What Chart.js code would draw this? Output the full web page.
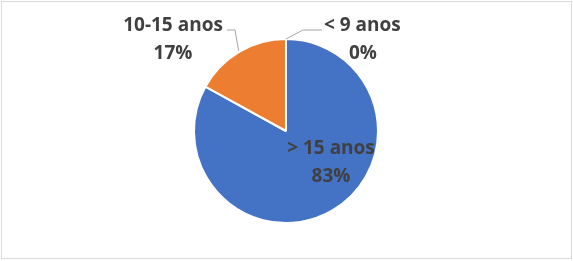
<!DOCTYPE html>
<html><head><meta charset="utf-8">
<script src="https://cdn.jsdelivr.net/npm/chart.js@4/dist/chart.umd.min.js"></script>
<style>html,body{margin:0;padding:0;background:#fff;}#wrap{width:573px;height:261px;position:relative;}</style>
</head><body><div id="wrap"><canvas id="c" width="573" height="261"></canvas></div>
<script>
const categories = ["> 15 anos", "10-15 anos", "< 9 anos"];
const values = [83, 17, 0];
const pctLabels = ["83%", "17%", "0%"];
const colors = ["#4472C4", "#ED7D31", "#A5A5A5"];

const labelPlugin = {
  id: 'labels',
  afterDraw(chart) {
    const ctx = chart.ctx;
    const arcs = chart.getDatasetMeta(0).data;
    ctx.save();
    ctx.strokeStyle = '#D9D9D9'; ctx.lineWidth = 1;
    ctx.strokeRect(1.5, 1.5, 570, 257);
    ctx.font = 'bold 19px "Open Sans"';
    ctx.fillStyle = '#404040';
    ctx.textAlign = 'center'; ctx.textBaseline = 'alphabetic';
    const a0 = arcs[0];
    const r = a0.outerRadius;
    let cx = a0.x + 45, cy = a0.y + 23;
    ctx.fillText(categories[0], cx, cy);
    ctx.fillText(pctLabels[0], cx, cy + 28);
    ctx.strokeStyle = '#A6A6A6'; ctx.lineWidth = 1;
    const a1 = arcs[1];
    const m1 = (a1.startAngle + a1.endAngle) / 2;
    const p1x = a1.x + Math.cos(m1) * (r + 1), p1y = a1.y + Math.sin(m1) * (r + 1);
    ctx.beginPath();
    ctx.moveTo(p1x, p1y); ctx.lineTo(a1.x - 51, a1.y - 101); ctx.lineTo(a1.x - 59, a1.y - 101);
    ctx.stroke();
    ctx.fillText(categories[1], a1.x - 113, a1.y - 100);
    ctx.fillText(pctLabels[1], a1.x - 113, a1.y - 72);
    const a2 = arcs[2];
    const m2 = (a2.startAngle + a2.endAngle) / 2;
    const p2x = a2.x + Math.cos(m2) * r, p2y = a2.y + Math.sin(m2) * r;
    ctx.beginPath();
    ctx.moveTo(p2x, p2y); ctx.lineTo(a2.x + 17, a2.y - 101); ctx.lineTo(a2.x + 36, a2.y - 101);
    ctx.stroke();
    ctx.textAlign = 'left';
    ctx.fillText(categories[2], a2.x + 38, a2.y - 100);
    ctx.textAlign = 'center';
    ctx.fillText(pctLabels[2], a2.x + 77, a2.y - 72);
    ctx.restore();
  }
};

new Chart(document.getElementById('c'), {
  type: 'pie',
  data: { labels: categories, datasets: [{ data: values, backgroundColor: colors, borderColor: '#FFFFFF', borderWidth: 2 }] },
  options: {
    responsive: false, animation: false,
    layout: { padding: { top: 38, bottom: 37, left: 100, right: 101 } },
    plugins: { legend: { display: false }, tooltip: { enabled: false } }
  },
  plugins: [labelPlugin]
});
</script></body></html>
